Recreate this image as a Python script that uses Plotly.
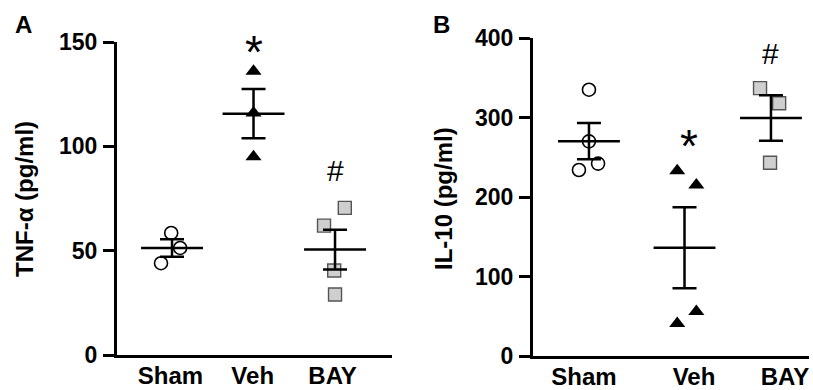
import numpy as np
import plotly.graph_objects as go

# ---------------- data ----------------
groups = ["Sham", "Veh", "BAY"]

tnf_sham = [58.5, 51.3, 44.0]
tnf_veh = [136.0, 116.0, 95.0]
tnf_bay = [70.5, 62.0, 40.5, 29.0]

il10_sham = [335.0, 242.0, 234.0, 270.0]
il10_veh = [233.0, 215.0, 56.0, 41.0]
il10_bay = [337.0, 318.0, 243.0]

tnf_ticks = [0, 50, 100, 150]
il10_ticks = [0, 100, 200, 300, 400]

# ---------------- layout constants (positions / styles) ----------------
A_centers = [1.0, 2.0, 3.0]
A_jitter = [[-0.01, 0.10, -0.135], [0, 0, 0], [0.12, -0.135, -0.01, 0.0]]
A_label_pos = [0.98, 1.99, 2.97]
B_centers = [1.0, 2.05, 3.0]
B_jitter = [[0, 0.10, -0.11, 0], [-0.08, 0.13, 0.13, -0.08], [-0.12, 0.09, -0.01]]
B_label_pos = [0.945, 2.154, 3.154]

W, H = 813, 390
FONT = "Liberation Sans, Arial, sans-serif"


def xp(px):
    return px / W


def yp(py):
    return 1 - py / H


marker_styles = [
    dict(symbol="circle-open", size=13, color="black", line=dict(width=1.6, color="black")),
    dict(symbol="triangle-up", size=14, color="black", line=dict(width=0)),
    dict(symbol="square", size=13, color="#cfcfcf", line=dict(width=1.4, color="#555555")),
]

fig = go.Figure()


def add_panel(data, centers, jitter, xa, ya, half):
    # points
    for g, (vals, c, jit) in enumerate(zip(data, centers, jitter)):
        fig.add_trace(go.Scatter(
            x=[c + j for j in jit], y=vals, mode="markers",
            marker=marker_styles[g], xaxis=xa, yaxis=ya,
            showlegend=False, hoverinfo="y", cliponaxis=False))
    # mean +/- SEM
    for g, (vals, c) in enumerate(zip(data, centers)):
        arr = np.array(vals, dtype=float)
        m = arr.mean()
        sem = arr.std(ddof=1) / np.sqrt(len(arr))
        fig.add_trace(go.Scatter(
            x=[c - half, c + half], y=[m, m], mode="lines",
            line=dict(color="black", width=2.5), xaxis=xa, yaxis=ya,
            showlegend=False, hoverinfo="skip"))
        fig.add_trace(go.Scatter(
            x=[c], y=[m], mode="markers",
            marker=dict(size=1, color="rgba(0,0,0,0)"),
            error_y=dict(type="data", array=[sem], visible=True,
                         color="black", thickness=2.5, width=12),
            xaxis=xa, yaxis=ya, showlegend=False, hoverinfo="skip"))


add_panel([tnf_sham, tnf_veh, tnf_bay], A_centers, A_jitter, "x", "y", 0.38)
add_panel([il10_sham, il10_veh, il10_bay], B_centers, B_jitter, "x2", "y2", 0.34)

yaxis_common = dict(
    showgrid=False, zeroline=False, showline=True, linewidth=3, linecolor="black",
    ticks="outside", ticklen=11, tickwidth=3, tickcolor="black",
    tickfont=dict(family=FONT, size=23, color="black", weight="bold"),
    ticklabelstandoff=1, automargin=False,
)
xaxis_common = dict(
    showgrid=False, zeroline=False, showline=True, linewidth=3, linecolor="black",
    ticks="", tickfont=dict(family=FONT, size=24, color="black", weight="bold"),
    ticklabelstandoff=-3, automargin=False,
)

fig.update_layout(
    width=W, height=H,
    margin=dict(l=0, r=0, t=0, b=0, pad=0),
    paper_bgcolor="white", plot_bgcolor="white",
    xaxis=dict(domain=[xp(117), xp(392)], range=[0.325, 3.699],
               tickvals=A_label_pos, ticktext=groups, anchor="y", **xaxis_common),
    yaxis=dict(domain=[yp(355), yp(42)], range=[0, 150],
               tickvals=tnf_ticks, anchor="x", **yaxis_common),
    xaxis2=dict(domain=[xp(533), xp(809)], range=[0.385, 3.418],
                tickvals=B_label_pos, ticktext=groups, anchor="y2", **xaxis_common),
    yaxis2=dict(domain=[yp(356), yp(38)], range=[0, 400],
                tickvals=il10_ticks, anchor="x2", **yaxis_common),
    showlegend=False,
)

ann_common = dict(showarrow=False, xanchor="center", yanchor="middle")

# Axis titles (rotated), panel letters, significance marks
fig.add_annotation(text="TNF-α (pg/ml)", xref="paper", yref="paper",
                   x=xp(24), y=yp(199), textangle=-90, **ann_common,
                   font=dict(family=FONT, size=24, color="black", weight="bold"))
fig.add_annotation(text="IL-10 (pg/ml)", xref="paper", yref="paper",
                   x=xp(443), y=yp(198), textangle=-90, **ann_common,
                   font=dict(family=FONT, size=24, color="black", weight="bold"))
fig.add_annotation(text="A", xref="paper", yref="paper", x=xp(23), y=yp(24), **ann_common,
                   font=dict(family=FONT, size=24, color="black", weight="bold"))
fig.add_annotation(text="B", xref="paper", yref="paper", x=xp(441), y=yp(24), **ann_common,
                   font=dict(family=FONT, size=24, color="black", weight="bold"))

fig.add_annotation(text="*", x=A_centers[1], y=150, yshift=-10, xref="x", yref="y",
                   **ann_common, font=dict(family=FONT, size=46, color="black"))
fig.add_annotation(text="#", x=A_centers[2], y=88.6, xref="x", yref="y",
                   **ann_common, font=dict(family=FONT, size=30, color="black"))
fig.add_annotation(text="*", x=B_centers[1] + 0.05, y=274, yshift=-8, xref="x2", yref="y2",
                   **ann_common, font=dict(family=FONT, size=46, color="black"))
fig.add_annotation(text="#", x=B_centers[2], y=380, xref="x2", yref="y2",
                   **ann_common, font=dict(family=FONT, size=30, color="black"))

fig.write_html(
    "out.html",
    config={"displayModeBar": False},
    post_script="document.body.style.margin='0';document.body.style.overflow='hidden';",
)
